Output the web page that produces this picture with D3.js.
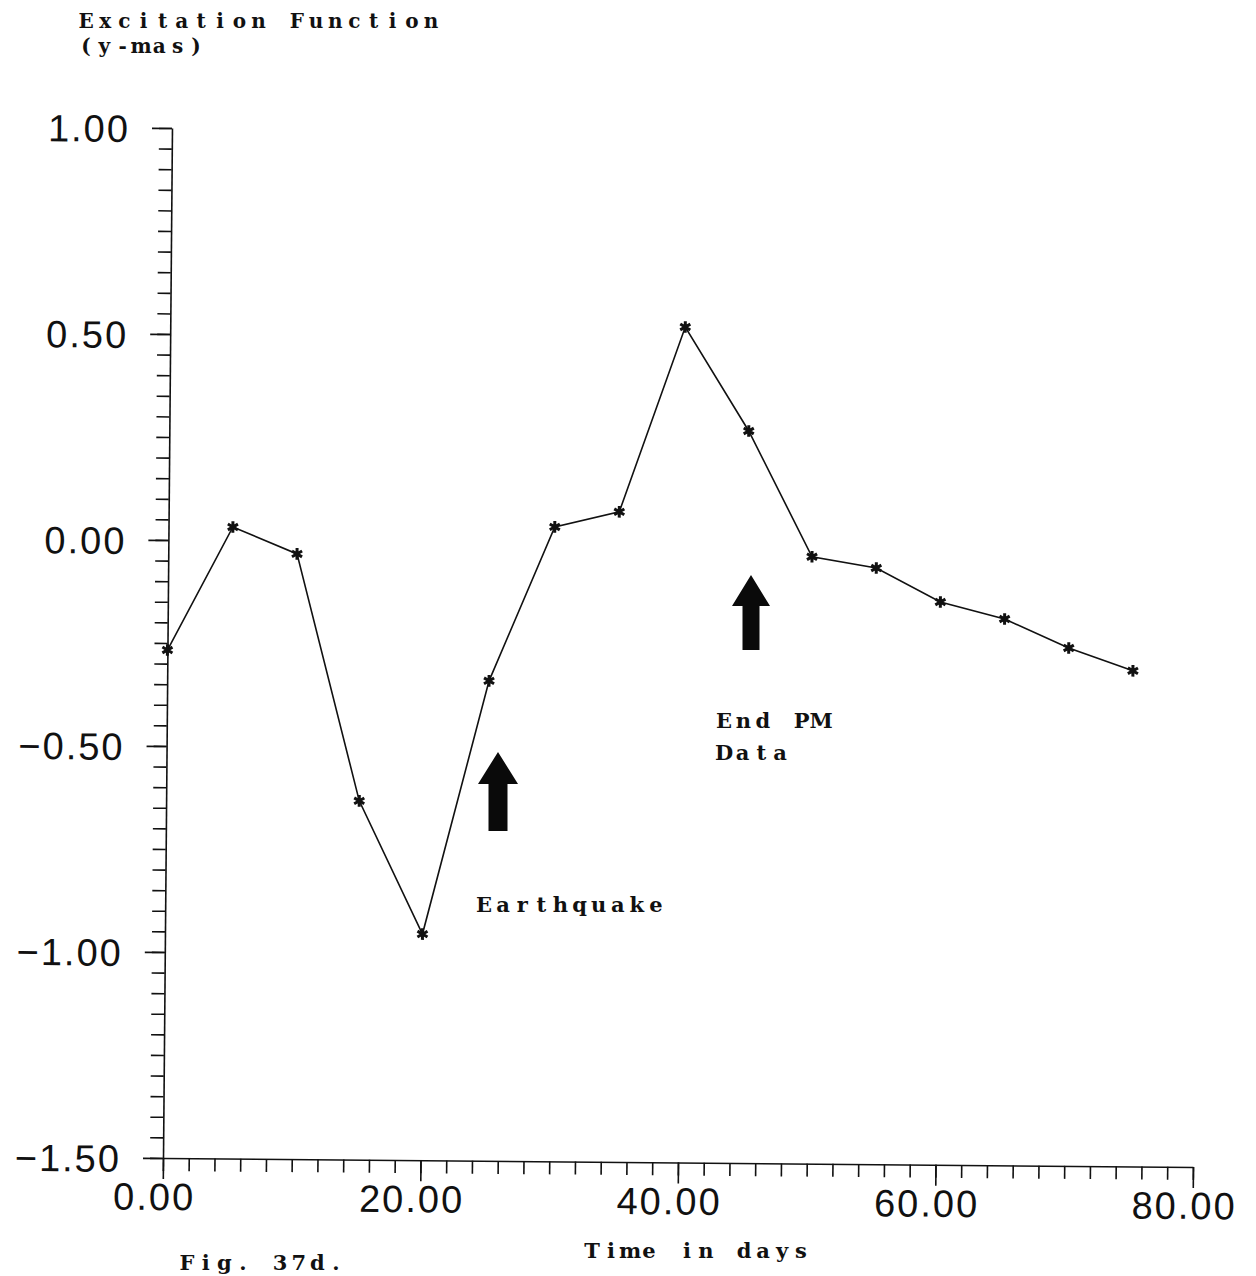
<!DOCTYPE html>
<html>
<head>
<meta charset="utf-8">
<script src="https://cdn.jsdelivr.net/npm/d3@7"></script>
<style>
  html, body { margin: 0; padding: 0; background: #fff; }
  svg { display: block; }
  .lbl { font-family: "DejaVu Serif", "Liberation Serif", serif; font-weight: bold; fill: #111; }
  .tick text { font-family: "Liberation Sans", Arial, sans-serif; font-size: 38px; letter-spacing: 2px; fill: #111; }
</style>
</head>
<body>
<script>
// ---- data ----
const days = [0, 5, 10, 15, 20, 25, 30, 35, 40, 45, 50, 55, 60, 65, 70, 75];
const excitation = [-0.267, 0.033, -0.031, -0.629, -0.951, -0.335, 0.040, 0.078,
                    0.528, 0.277, -0.027, -0.053, -0.134, -0.174, -0.243, -0.297];
const xMajorTicks = [0, 20, 40, 60, 80];
const yMajorTicks = [-1.5, -1.0, -0.5, 0.0, 0.5, 1.0];
const xTitle = "Time in days";
const yTitle = ["Excitation Function", "(y-mas)"];
const figLabel = "Fig. 37d.";
const annotations = [
  { lines: ["Earthquake"] },
  { lines: ["End PM", "Data"] }
];

const W = 1256, H = 1276;
const svg = d3.select("body").append("svg").attr("width", W).attr("height", H);

const x0 = 163, x1 = 1193, yBot = 1158, yTop = 128;
const x = d3.scaleLinear().domain([0, 80]).range([x0, x1]);
const y = d3.scaleLinear().domain([-1.5, 1.0]).range([yBot, yTop]);

// the scanned original is rotated slightly clockwise
const g = svg.append("g").attr("transform", `rotate(0.5, ${x0}, ${yBot})`);

const fmt = d => (d < 0 ? "\u2212" : "") + Math.abs(d).toFixed(2);

// y axis: minor ticks
g.append("g").attr("transform", `translate(${x0},0)`)
  .call(d3.axisLeft(y).tickValues(d3.range(-1.5, 1.0001, 0.05)).tickSize(13).tickSizeOuter(0).tickFormat(""))
  .call(s => s.selectAll("line,path").attr("stroke", "#111").attr("stroke-width", 1.6));
// y axis: major ticks + labels
g.append("g").attr("transform", `translate(${x0},0)`)
  .call(d3.axisLeft(y).tickValues(yMajorTicks).tickSize(20).tickSizeOuter(0).tickPadding(22).tickFormat(fmt))
  .call(s => s.select(".domain").remove())
  .call(s => s.selectAll("line").attr("stroke", "#111").attr("stroke-width", 1.6))
  .call(s => s.selectAll("text").attr("dy", "0.36em"));

// x axis: minor ticks
g.append("g").attr("transform", `translate(0,${yBot})`)
  .call(d3.axisBottom(x).tickValues(d3.range(0, 80.001, 2)).tickSize(13).tickSizeOuter(0).tickFormat(""))
  .call(s => s.selectAll("line,path").attr("stroke", "#111").attr("stroke-width", 1.6));
// x axis: major ticks + labels
g.append("g").attr("transform", `translate(0,${yBot})`)
  .call(d3.axisBottom(x).tickValues(xMajorTicks).tickSize(21).tickSizeOuter(0).tickFormat(fmt))
  .call(s => s.select(".domain").remove())
  .call(s => s.selectAll("line").attr("stroke", "#111").attr("stroke-width", 1.6))
  .call(s => s.selectAll("text").attr("y", 52).attr("dy", 0).attr("x", -9));

// data line
const pts = days.map((d, i) => [d, excitation[i]]);
g.append("path").datum(pts)
  .attr("fill", "none").attr("stroke", "#111").attr("stroke-width", 1.6)
  .attr("d", d3.line().x(d => x(d[0])).y(d => y(d[1])));
g.selectAll(".mk").data(pts).join("path").attr("class", "mk")
  .attr("transform", d => `translate(${x(d[0])},${y(d[1])})`)
  .attr("d", d3.symbol(d3.symbolAsterisk, 95)())
  .attr("fill", "none").attr("stroke", "#111").attr("stroke-width", 3);

// typewriter-style labels: one text element, each glyph centred in a fixed-width cell
const txt = (s, left, ty, size, right) => {
  const chars = Array.from(s);
  const half = 7;
  const cell = (right - left - 2 * half) / (chars.length - 1);
  const t = svg.append("text").attr("class", "lbl").attr("y", ty).attr("font-size", size);
  chars.forEach((c, i) => {
    t.append("tspan").attr("x", left + half + i * cell).attr("y", ty)
      .attr("text-anchor", "middle").text(c);
  });
};
txt(yTitle[0], 79, 28, 20, 438);
txt(yTitle[1], 79, 53, 20, 203);
txt(xTitle, 585, 1258, 21, 808);
txt(figLabel, 180, 1270, 21, 343);
txt(annotations[0].lines[0], 477, 912, 21, 663);
txt(annotations[1].lines[0], 717, 728, 21, 828);
txt(annotations[1].lines[1], 717, 760, 21, 787);

// arrows
const arrow = (cx, tip, headBase, bottom, headHalf, shaftHalf) => {
  const p = d3.path();
  p.moveTo(cx, tip);
  p.lineTo(cx + headHalf, headBase);
  p.lineTo(cx + shaftHalf, headBase);
  p.lineTo(cx + shaftHalf, bottom);
  p.lineTo(cx - shaftHalf, bottom);
  p.lineTo(cx - shaftHalf, headBase);
  p.lineTo(cx - headHalf, headBase);
  p.closePath();
  svg.append("path").attr("d", p.toString()).attr("fill", "#0a0a0a");
};
arrow(498, 752, 784, 831, 20, 9.5);
arrow(751, 575, 606, 650, 19, 8.5);
</script>
</body>
</html>
